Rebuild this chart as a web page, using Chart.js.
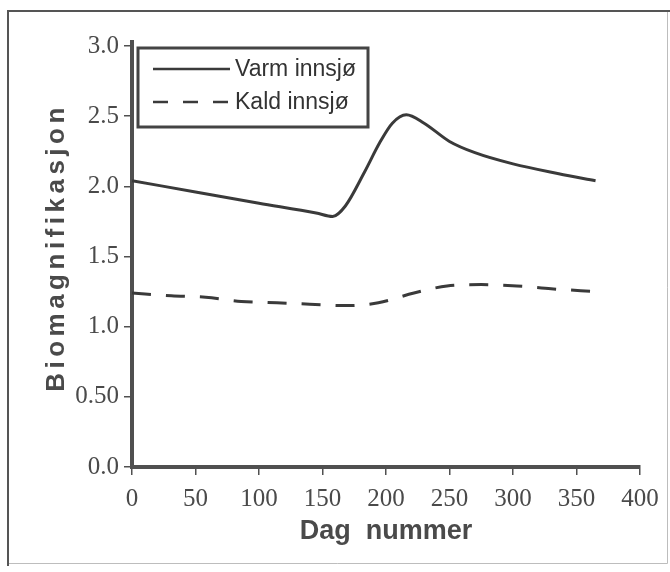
<!DOCTYPE html>
<html>
<head>
<meta charset="utf-8">
<script src="https://cdn.jsdelivr.net/npm/chart.js@4.4.0/dist/chart.umd.min.js"></script>
<style>
  html, body { margin: 0; padding: 0; background: #fff; }
  #wrap { width: 670px; height: 572px; }
</style>
</head>
<body>
<div id="wrap"><canvas id="chart" width="670" height="572"></canvas></div>
<script>
// values
const warmDays   = [0, 50, 100, 145, 158, 168, 183, 195, 205, 216, 230, 250, 270, 300, 336, 365];
const warmValues = [2.04, 1.96, 1.88, 1.81, 1.785, 1.86, 2.10, 2.31, 2.45, 2.51, 2.45, 2.32, 2.24, 2.16, 2.09, 2.04];
const coldDays   = [0, 31, 58, 86, 114, 140, 169, 194, 222, 248, 275, 303, 330, 365];
const coldValues = [1.24, 1.22, 1.21, 1.18, 1.17, 1.16, 1.15, 1.17, 1.24, 1.29, 1.30, 1.29, 1.27, 1.25];

const seriesNames = ['Varm innsjø', 'Kald innsjø'];
const xTicks = [0, 50, 100, 150, 200, 250, 300, 350, 400];
const yTicks = [0, 0.5, 1, 1.5, 2, 2.5, 3];
const yTickLabels = ['0.0', '0.50', '1.0', '1.5', '2.0', '2.5', '3.0'];
const xTitle = 'Dag  nummer';
const yTitle = 'Biomagnifikasjon';

const ink = '#3a3a3a';
const axisInk = '#505050';
const labelInk = '#4a4a4a';
const serif = '"Liberation Serif", "Times New Roman", serif';
const sans = '"Liberation Sans", Arial, sans-serif';

const pts = (xs, ys) => xs.map((x, i) => ({ x: x, y: ys[i] }));

// frame of the scanned page
const framePlugin = {
  id: 'frame',
  beforeDraw(chart) {
    const ctx = chart.ctx;
    ctx.save();
    ctx.fillStyle = '#fff';
    ctx.fillRect(0, 0, chart.width, chart.height);
    ctx.strokeStyle = '#bdbdbd';
    ctx.lineWidth = 1;
    ctx.beginPath();
    ctx.moveTo(8, 563.5); ctx.lineTo(667.5, 563.5); ctx.lineTo(667.5, 11);
    ctx.stroke();
    ctx.strokeStyle = '#555';
    ctx.lineWidth = 2;
    ctx.beginPath();
    ctx.moveTo(8, 566); ctx.lineTo(8, 11); ctx.lineTo(670, 11);
    ctx.stroke();
    ctx.restore();
  }
};

// y title, stretched like in the scan; also the axis stub above 3.0
const yTitlePlugin = {
  id: 'yTitle',
  afterDraw(chart) {
    const ctx = chart.ctx;
    const a = chart.chartArea;
    ctx.save();
    ctx.fillStyle = axisInk;
    ctx.fillRect(a.left - 2, a.top - 6, 4, 8);
    ctx.translate(57, (a.top + a.bottom) / 2 - 7);
    ctx.rotate(-Math.PI / 2);
    ctx.font = 'bold 26px ' + sans;
    ctx.letterSpacing = '4.5px';
    ctx.fillStyle = labelInk;
    ctx.textAlign = 'center';
    ctx.textBaseline = 'middle';
    ctx.fillText(yTitle, 2, 0);
    ctx.restore();
  }
};

// boxed legend inside the plot, upper left
const boxLegend = {
  id: 'boxLegend',
  afterDatasetsDraw(chart) {
    const ctx = chart.ctx;
    const x0 = chart.chartArea.left + 6, y0 = chart.chartArea.top + 2;
    const w = 230, h = 79;
    ctx.save();
    ctx.fillStyle = '#fff';
    ctx.fillRect(x0, y0, w, h);
    ctx.strokeStyle = '#444';
    ctx.lineWidth = 3;
    ctx.strokeRect(x0, y0, w, h);
    ctx.font = '23px ' + sans;
    ctx.textBaseline = 'middle';
    chart.data.datasets.forEach((ds, i) => {
      const y = y0 + 21 + i * 33;
      ctx.strokeStyle = ds.borderColor;
      ctx.lineWidth = 2.5;
      ctx.setLineDash(ds.borderDash ? [15, 15] : []);
      ctx.beginPath();
      ctx.moveTo(x0 + 15, y);
      ctx.lineTo(x0 + 92, y);
      ctx.stroke();
      ctx.setLineDash([]);
      ctx.fillStyle = '#333';
      ctx.fillText(ds.label, x0 + 97, y + 1);
    });
    ctx.restore();
  }
};

new Chart(document.getElementById('chart'), {
  type: 'line',
  data: {
    datasets: [
      {
        label: seriesNames[0],
        data: pts(warmDays, warmValues),
        borderColor: ink,
        borderWidth: 3,
        pointRadius: 0,
        cubicInterpolationMode: 'monotone'
      },
      {
        label: seriesNames[1],
        data: pts(coldDays, coldValues),
        borderColor: ink,
        borderWidth: 3,
        borderDash: [19, 15],
        pointRadius: 0,
        cubicInterpolationMode: 'monotone'
      }
    ]
  },
  options: {
    responsive: false,
    devicePixelRatio: 1,
    animation: false,
    layout: { padding: { top: 46, right: 30, bottom: 0, left: 0 } },
    plugins: {
      legend: { display: false },
      tooltip: { enabled: false }
    },
    scales: {
      x: {
        type: 'linear',
        min: 0,
        max: 400,
        afterFit(s) { s.height = 105; },
        afterBuildTicks(s) { s.ticks = xTicks.map(v => ({ value: v })); },
        border: { display: true, color: axisInk, width: 4 },
        grid: { drawOnChartArea: false, drawTicks: true, tickLength: 8, color: axisInk, lineWidth: 1.5 },
        ticks: { font: { family: serif, size: 25 }, color: labelInk, padding: 9, maxRotation: 0, autoSkip: false },
        title: { display: true, text: xTitle, font: { family: sans, size: 27, weight: 'bold' }, color: labelInk, padding: { top: 0, bottom: 24 } }
      },
      y: {
        min: 0,
        max: 3,
        afterFit(s) { s.width = 132; },
        afterBuildTicks(s) { s.ticks = yTicks.map(v => ({ value: v })); },
        border: { display: true, color: axisInk, width: 4 },
        grid: { drawOnChartArea: false, drawTicks: true, tickLength: 8, color: axisInk, lineWidth: 1.5 },
        ticks: {
          font: { family: serif, size: 25 },
          color: labelInk,
          padding: 5,
          autoSkip: false,
          callback: (v, i) => yTickLabels[i]
        }
      }
    }
  },
  plugins: [framePlugin, yTitlePlugin, boxLegend]
});
</script>
</body>
</html>
